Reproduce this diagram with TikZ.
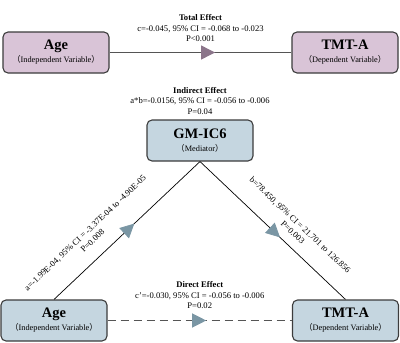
\documentclass[tikz,border=0pt]{standalone}
\usepackage{fontspec}
\setmainfont{Liberation Serif}
\newfontfamily\cjk{Noto Sans CJK SC}
\usetikzlibrary{positioning,arrows.meta,decorations.markings}
\definecolor{BoxEdge}{RGB}{60,60,60}
\definecolor{PlumFill}{RGB}{217,196,215}
\definecolor{PlumTip}{RGB}{139,117,138}
\definecolor{SteelFill}{RGB}{197,214,224}
\definecolor{SteelTip}{RGB}{122,150,164}
\definecolor{LineGrey}{RGB}{85,85,85}
\newcommand{\titlefont}{\fontsize{14.5}{15}\selectfont\bfseries}
\newcommand{\subfont}{\fontsize{8.3}{9}\selectfont}
\newcommand{\labfont}{\fontsize{8.6}{10.5}\selectfont}
\newcommand{\varbox}[2]{{\titlefont #1}\\[1pt]{\subfont{\cjk （}#2{\cjk ）}}}
\tikzset{
  varnode/.style={draw=BoxEdge,line width=1.1pt,rounded corners=5pt,
    minimum width=106pt,minimum height=41pt,align=center,inner sep=1pt},
  plumbox/.style={varnode,fill=PlumFill},
  steelbox/.style={varnode,fill=SteelFill},
  effect/.style={align=center,font=\labfont,inner sep=1pt,text=black},
  midtip/.style 2 args={postaction={decorate,decoration={markings,
    mark=at position #1 with {\arrow[#2]{Triangle[length=14pt,width=14pt]}}}}},
  totalpath/.style={draw=LineGrey,line width=1.2pt,midtip={0.58}{PlumTip}},
  medpath/.style={draw=black,line width=0.7pt,midtip={0.55}{SteelTip}},
  directpath/.style={draw=LineGrey,line width=1.2pt,dash pattern=on 8pt off 5pt,
    midtip={0.535}{SteelTip}}
}

\begin{document}
\begin{tikzpicture}[x=1pt,y=-1pt]
  \useasboundingbox (0,0) rectangle (400,343);

  % total effect
  \node[plumbox] (ageTop) at (56,52.5) {\varbox{Age}{Independent Variable}};
  \node[plumbox] (tmtTop) at (345,52.5) {\varbox{TMT-A}{Dependent Variable}};
  \draw[totalpath] (ageTop) -- node[effect,above=9pt] {\textbf{Total Effect}\\c=-0.045, 95\% CI = -0.068 to -0.023\\P<0.001} (tmtTop);

  % mediation model
  \node[steelbox] (med) at (200,140.5) {\varbox{GM-IC6}{Mediator}};
  \node[effect,above=4pt of med] (indirect) {\textbf{Indirect Effect}\\a*b=-0.0156, 95\% CI = -0.056 to -0.006\\P=0.04};
  \node[steelbox] (ageBot) at (54,320.5) {\varbox{Age}{Independent Variable}};
  \node[steelbox] (tmtBot) at (345.5,320.5) {\varbox{TMT-A}{Dependent Variable}};

  \draw[medpath] (ageBot.north) -- node[effect,sloped,pos=0.34,above=12pt] {a=-1.99E-04, 95\% CI = -3.37E-04 to -4.90E-05\\P=0.008} (med.south);
  \draw[medpath] (med.south) -- node[effect,sloped,pos=0.58,above=8pt] {b=78.450, 95\% CI = 21.701 to 126.856\\P=0.003} (tmtBot.north);
  \draw[directpath] (ageBot) -- node[effect,above=10pt] {\textbf{Direct Effect}\\c'=-0.030, 95\% CI = -0.056 to -0.006\\P=0.02} (tmtBot);
\end{tikzpicture}
\end{document}
